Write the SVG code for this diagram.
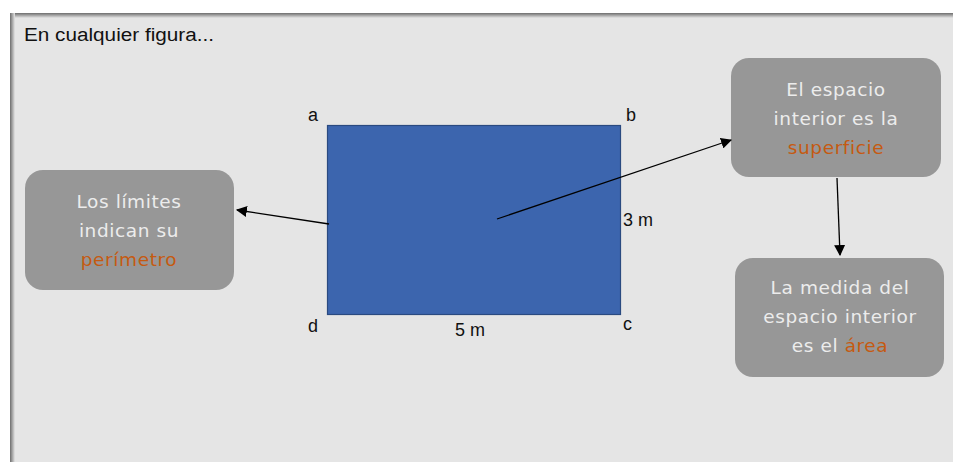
<svg xmlns="http://www.w3.org/2000/svg" width="953" height="462" viewBox="0 0 953 462">
<defs>
<marker id="ah" viewBox="0 0 10 10" refX="9" refY="5" markerWidth="11" markerHeight="11" markerUnits="userSpaceOnUse" orient="auto">
<path d="M0,0 L10,5 L0,10 z" fill="#000"/>
</marker>
<linearGradient id="lb" x1="0" x2="1" y1="0" y2="0">
<stop offset="0" stop-color="#6d6d6d"/><stop offset="1" stop-color="#e5e5e5"/>
</linearGradient>
<linearGradient id="tb" x1="0" x2="0" y1="0" y2="1">
<stop offset="0" stop-color="#6d6d6d"/><stop offset="1" stop-color="#e5e5e5"/>
</linearGradient>
</defs>
<style>
.box{fill:#979797;}
.t{font-family:"DejaVu Sans","Liberation Sans",sans-serif;font-size:18.5px;letter-spacing:0.6px;fill:#ececec;text-anchor:middle;}
.o{fill:#c55a11;}
.lbl{font-family:"Liberation Sans",Arial,sans-serif;font-size:18px;fill:#111;}
.c{stroke:#000;stroke-width:1.3;fill:none;marker-end:url(#ah);}
</style>
<rect x="0" y="0" width="953" height="462" fill="#ffffff"/>
<rect x="10" y="13" width="943" height="449" fill="#e5e5e5"/>
<rect x="10" y="13" width="943" height="5" fill="url(#tb)"/>
<rect x="10" y="13" width="5" height="449" fill="url(#lb)"/>
<text x="24" y="41" class="lbl" textLength="190" lengthAdjust="spacingAndGlyphs">En cualquier figura...</text>

<g id="rect">
<rect x="327.5" y="125.5" width="293" height="189" fill="#3c65ae" stroke="#2a4a80" stroke-width="1.2"/>
<text x="308" y="121" class="lbl">a</text>
<text x="626" y="121" class="lbl">b</text>
<text x="308" y="332" class="lbl">d</text>
<text x="623" y="330" class="lbl">c</text>
<text x="455" y="336" class="lbl">5 m</text>
<text x="623" y="226" class="lbl">3 m</text>
</g>

<g id="left">
<rect x="25" y="170" width="209" height="120" rx="18" class="box"/>
<text class="t" x="129" y="208">Los límites</text>
<text class="t" x="129" y="237">indican su</text>
<text class="t o" x="129" y="266">perímetro</text>
</g>

<g id="topright">
<rect x="731" y="58" width="210" height="119" rx="18" class="box"/>
<text class="t" x="836" y="96">El espacio</text>
<text class="t" x="836" y="125">interior es la</text>
<text class="t o" x="836" y="154">superficie</text>
</g>

<g id="bottomright">
<rect x="735" y="258" width="209" height="119" rx="18" class="box"/>
<text class="t" x="840" y="294">La medida del</text>
<text class="t" x="840" y="323">espacio interior</text>
<text class="t" x="840" y="352">es el <tspan class="o">área</tspan></text>
</g>

<g id="connectors">
<line x1="329" y1="224" x2="237" y2="210" class="c"/>
<line x1="497" y1="219" x2="731" y2="140" class="c"/>
<line x1="837" y1="178" x2="840" y2="255" class="c"/>
</g>
</svg>
